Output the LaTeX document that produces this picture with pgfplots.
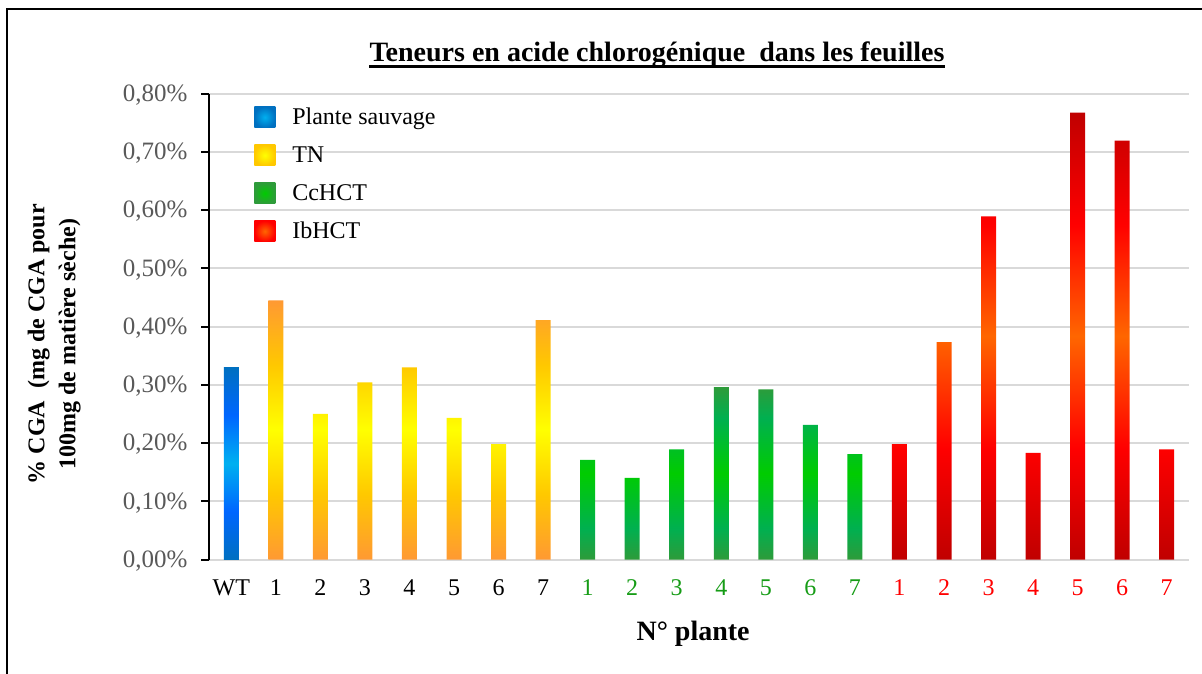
\documentclass[border=0pt]{standalone}
\usepackage{fontspec}
\setmainfont{Liberation Serif}
\usepackage{pgfplots}
\pgfplotsset{compat=1.18}

% bar colours: end / quarter / centre of the mirrored gradient
\definecolor{wtA}{HTML}{0070C0}
\definecolor{wtB}{HTML}{0066FF}
\definecolor{wtC}{HTML}{00B0F0}
\definecolor{tnA}{HTML}{FF9933}
\definecolor{tnB}{HTML}{FFC800}
\definecolor{tnC}{HTML}{FFFF00}
\definecolor{ccA}{HTML}{2E9B3A}
\definecolor{ccB}{HTML}{00B050}
\definecolor{ccC}{HTML}{00CC00}
\definecolor{ibA}{HTML}{C00000}
\definecolor{ibB}{HTML}{FF0000}
\definecolor{ibC}{HTML}{FF6600}
\definecolor{gridgray}{HTML}{D9D9D9}
\definecolor{tickgray}{HTML}{595959}
\definecolor{ccText}{HTML}{169C16}
\definecolor{ibText}{HTML}{FF0000}

\pgfdeclareverticalshading{wtbar}{100bp}{color(0bp)=(wtA); color(25bp)=(wtA); color(37.5bp)=(wtB); color(50bp)=(wtC); color(62.5bp)=(wtB); color(75bp)=(wtA); color(100bp)=(wtA)}
\pgfdeclareverticalshading{tnbar}{100bp}{color(0bp)=(tnA); color(25bp)=(tnA); color(37.5bp)=(tnB); color(50bp)=(tnC); color(62.5bp)=(tnB); color(75bp)=(tnA); color(100bp)=(tnA)}
\pgfdeclareverticalshading{ccbar}{100bp}{color(0bp)=(ccA); color(25bp)=(ccA); color(34bp)=(ccB); color(50bp)=(ccC); color(66bp)=(ccB); color(75bp)=(ccA); color(100bp)=(ccA)}
\pgfdeclareverticalshading{ibbar}{100bp}{color(0bp)=(ibA); color(25bp)=(ibA); color(37.5bp)=(ibB); color(50bp)=(ibC); color(62.5bp)=(ibB); color(75bp)=(ibA); color(100bp)=(ibA)}

\begin{document}
\begin{tikzpicture}
\useasboundingbox (0pt,0pt) rectangle (1202pt,673pt);
\draw[line width=2.5pt] (7pt,-5pt) -- (7pt,664pt) -- (1207pt,664pt);

\begin{axis}[
    at={(209pt,113.5pt)}, anchor=south west,
    scale only axis,
    width=980pt, height=466pt,
    xmin=-0.5, xmax=21.5,
    ymin=0, ymax=0.8,
    axis y line*=left,
    axis x line*=bottom,
    x axis line style={draw=none},
    y axis line style={line width=2pt, black},
    ymajorgrids,
    major grid style={line width=2pt, draw=gridgray},
    tick align=outside,
    major tick length=8pt,
    ytick={0,0.1,0.2,0.3,0.4,0.5,0.6,0.7,0.8},
    yticklabels={{0,00\%},{0,10\%},{0,20\%},{0,30\%},{0,40\%},{0,50\%},{0,60\%},{0,70\%},{0,80\%}},
    ytick style={line width=2pt, black},
    yticklabel style={text=tickgray, font=\fontsize{25}{30}\selectfont, xshift=-10pt, yshift=-1.5pt},
    xtick={0,1,2,3,4,5,6,7,8,9,10,11,12,13,14,15,16,17,18,19,20,21},
    xticklabels={WT,1,2,3,4,5,6,7,
        \textcolor{ccText}{1},\textcolor{ccText}{2},\textcolor{ccText}{3},\textcolor{ccText}{4},\textcolor{ccText}{5},\textcolor{ccText}{6},\textcolor{ccText}{7},
        \textcolor{ibText}{1},\textcolor{ibText}{2},\textcolor{ibText}{3},\textcolor{ibText}{4},\textcolor{ibText}{5},\textcolor{ibText}{6},\textcolor{ibText}{7}},
    xtick style={draw=none},
    xticklabel style={font=\fontsize{24}{28}\selectfont, yshift=-9pt},
    xlabel={N° plante},
    xlabel style={at={(axis description cs:0.494,-0.16)}, anchor=center, font=\bfseries\fontsize{28}{32}\selectfont},
    ylabel={\% CGA\ \ (mg de CGA pour\\100mg de matière sèche)},
    ylabel style={at={(axis description cs:-0.158,0.462)}, anchor=center, align=center, font=\bfseries\fontsize{24}{31}\selectfont},
    legend style={at={(axis description cs:0.046,0.972)}, anchor=north west,
        draw=none, fill=none, inner sep=0pt,
        font=\fontsize{24}{28}\selectfont,
        row sep=17pt,
        nodes={inner sep=0pt},
        /tikz/every odd column/.append style={column sep=17pt}},
    legend cell align=left,
]
\addplot[ybar, bar width=15pt, bar shift=0pt, draw=none, shade, shading=wtbar,
    legend image code/.code={\shade[inner color=wtC, outer color=wtA] (0pt,-10.5pt) rectangle (21pt,10.5pt);}]
    coordinates {(0,0.330)};
\addplot[ybar, bar width=15pt, bar shift=0pt, draw=none, shade, shading=tnbar,
    legend image code/.code={\shade[inner color=tnC, outer color=tnB] (0pt,-10.5pt) rectangle (21pt,10.5pt);}]
    coordinates {(1,0.445) (2,0.250) (3,0.304) (4,0.330) (5,0.243) (6,0.198) (7,0.411)};
\addplot[ybar, bar width=15pt, bar shift=0pt, draw=none, shade, shading=ccbar,
    legend image code/.code={\shade[inner color=ccC, outer color=ccA] (0pt,-10.5pt) rectangle (21pt,10.5pt);}]
    coordinates {(8,0.171) (9,0.140) (10,0.189) (11,0.296) (12,0.292) (13,0.231) (14,0.181)};
\addplot[ybar, bar width=15pt, bar shift=0pt, draw=none, shade, shading=ibbar,
    legend image code/.code={\shade[inner color=ibC, outer color=ibB] (0pt,-10.5pt) rectangle (21pt,10.5pt);}]
    coordinates {(15,0.198) (16,0.373) (17,0.589) (18,0.183) (19,0.767) (20,0.719) (21,0.189)};
\legend{Plante sauvage, TN, CcHCT, IbHCT}
\end{axis}

\node[anchor=base, inner sep=0pt, font=\bfseries\fontsize{28}{32}\selectfont] (ttl) at (657pt,611pt)
    {Teneurs en acide chlorogénique\ \ dans les feuilles};
\draw[line width=3pt] ([yshift=-4.5pt]ttl.base west) -- ([yshift=-4.5pt]ttl.base east);
\end{tikzpicture}
\end{document}
